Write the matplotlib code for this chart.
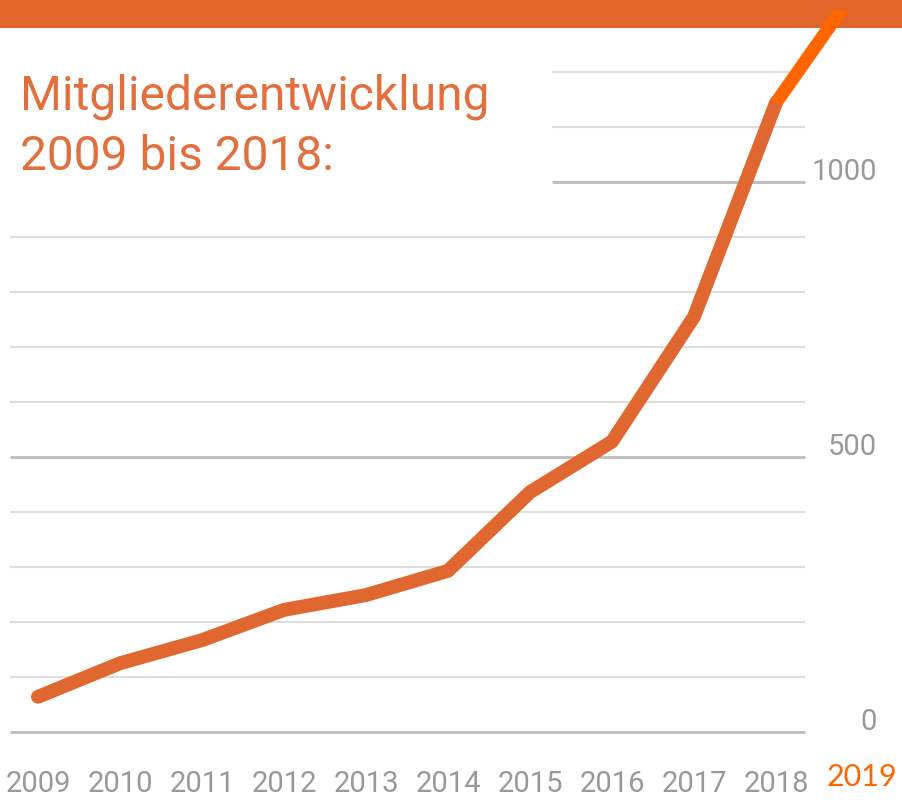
import matplotlib
matplotlib.use("Agg")
import matplotlib.pyplot as plt
from matplotlib.patches import Rectangle

# Mitgliederentwicklung 2009 bis 2018 (+ 2019)

jahre = [2009, 2010, 2011, 2012, 2013, 2014, 2015, 2016, 2017, 2018]
mitglieder = [64, 125, 167, 222, 249, 293, 436, 528, 755, 1144]
jahr_neu = 2019
mitglieder_neu = 1356

raster = list(range(0, 1300, 100))
haupt_raster = [0, 500, 1000]
y_labels = [0, 500, 1000]

titel = ["Mitgliederentwicklung", "2009 bis 2018:"]

orange = "#E0672F"
orange_hell = "#FF6600"
titel_farbe = "#E2703F"
grau_text = "#999999"

fig = plt.figure(figsize=(9.02, 8.0), dpi=100)
ax = fig.add_axes([0, 0, 1, 790 / 800])
ax.patch.set_visible(False)
ax.axis("off")

# Pixel -> Daten: x 82 px pro Jahr (2009 bei 38 px), y 0.55 px pro Mitglied (0 bei 732 px)
ax.set_xlim(2009 - 38 / 82, 2009 + (902 - 38) / 82)
ax.set_ylim((732 - 800) / 0.55, (732 - 10) / 0.55)

# Balken oben
fig.patches.append(Rectangle((0, 772 / 800), 1, 28 / 800, transform=fig.transFigure,
                             facecolor="#E2652A", edgecolor="none", zorder=-1))

# Rasterlinien (oberhalb 900 kürzer wegen Titel)
x_ende = 2009 + (805 - 38) / 82
for wert in raster:
    x_start = 2009 + (10 - 38) / 82 if wert < 1000 else 2009 + (552 - 38) / 82
    if wert in haupt_raster:
        ax.hlines(wert, x_start, x_ende, color="#BDBDBD", lw=2.0, zorder=1)
    else:
        ax.hlines(wert, x_start, x_ende, color="#DEDEDE", lw=1.5, zorder=1)

# Linie 2009-2018
ax.plot(jahre, mitglieder, color=orange, lw=10, solid_capstyle="round",
        solid_joinstyle="round", zorder=3)
# Verlängerung 2019
ax.plot([jahre[-1], jahr_neu], [mitglieder[-1], mitglieder_neu], color=orange_hell,
        lw=9.5, solid_capstyle="butt", zorder=4)

# Achsenbeschriftung
for j in jahre:
    ax.text(j, (732 - 784) / 0.55, str(j), ha="center", va="center",
            fontsize=21, color=grau_text, family="Roboto")
ax.text(jahr_neu + 0.05, (732 - 777) / 0.55, str(jahr_neu), ha="center", va="center",
        fontsize=22, color=orange_hell, family="Lato")
for w in y_labels:
    ax.text(2009 + (877 - 38) / 82, w + 10 / 0.55, str(w), ha="right", va="center",
            fontsize=21, color=grau_text, family="Roboto")

# Titel
fig.text(20 / 902, 1 - 109 / 800, titel[0], ha="left", va="baseline",
         fontsize=34.5, color=titel_farbe, family="Roboto")
fig.text(20 / 902, 1 - 170 / 800, titel[1], ha="left", va="baseline",
         fontsize=34.5, color=titel_farbe, family="Roboto")

fig.savefig("out.png", dpi=100)
